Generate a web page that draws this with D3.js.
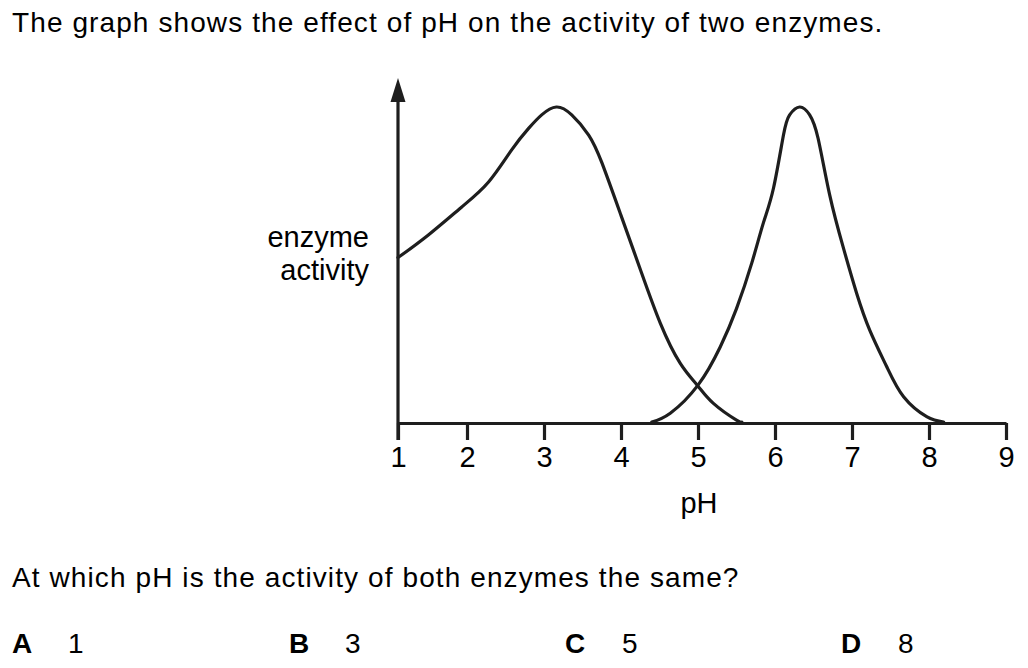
<!DOCTYPE html>
<html>
<head>
<meta charset="utf-8">
<script src="https://cdn.jsdelivr.net/npm/d3@7"></script>
<style>
  html, body { margin: 0; padding: 0; background: #fff; }
  svg { display: block; }
  text { font-family: "Liberation Sans", Arial, Helvetica, sans-serif; fill: #000; }
</style>
</head>
<body>
<svg id="chart" width="1028" height="668"></svg>
<script>
// ---- data ----
const phTicks = [1, 2, 3, 4, 5, 6, 7, 8, 9];
const enzymeA_pH       = [1.0, 1.44, 1.92, 2.28, 2.58, 2.80, 2.97, 3.16, 3.36, 3.58, 3.75, 4.00, 4.25, 4.51, 4.77, 4.99, 5.20, 5.50, 5.57];
const enzymeA_activity = [5.22, 5.94, 6.82, 7.62, 8.64, 9.32, 9.75, 10.0, 9.75, 9.11, 8.24, 6.56, 4.85, 3.14, 1.86, 1.17, 0.59, 0.06, 0];
const enzymeB_pH       = [4.40, 4.64, 5.00, 5.29, 5.50, 5.70, 5.85, 5.98, 6.11, 6.19, 6.32, 6.45, 6.56, 6.71, 6.89, 7.06, 7.23, 7.45, 7.67, 7.97, 8.19];
const enzymeB_activity = [0, 0.28, 1.17, 2.39, 3.60, 5.06, 6.33, 7.42, 9.11, 9.75, 10.0, 9.75, 9.00, 7.21, 5.51, 4.09, 2.92, 1.76, 0.80, 0.17, 0];
const titleText = "The graph shows the effect of pH on the activity of two enzymes.";
const questionText = "At which pH is the activity of both enzymes the same?";
const yLabelLines = ["enzyme", "activity"];
const xLabel = "pH";
const optionLetters = ["A", "B", "C", "D"];
const optionValues = ["1", "3", "5", "8"];

// ---- layout ----
const ink = "#1e1e1e";
const svg = d3.select("#chart");
const x = d3.scaleLinear().domain([1, 2, 9]).range([398, 467, 1006]);
const y = d3.scaleLinear().domain([0, 10]).range([422, 107]);
const axisY = 423;

// title
svg.append("text").attr("x", 12).attr("y", 32)
  .style("font-size", "28px").style("letter-spacing", "1.1px")
  .text(titleText);

// curves (drawn first so the axis line sits on top of their ends)
const line = d3.line().x(d => x(d[0])).y(d => y(d[1])).curve(d3.curveNatural);
const seriesA = enzymeA_pH.map((p, i) => [p, enzymeA_activity[i]]);
const seriesB = enzymeB_pH.map((p, i) => [p, enzymeB_activity[i]]);
[seriesA, seriesB].forEach(s => {
  svg.append("path").datum(s).attr("d", line)
    .attr("fill", "none").attr("stroke", ink).attr("stroke-width", 3.2)
    .attr("stroke-linejoin", "round").attr("stroke-linecap", "round");
});

// x axis
const xAxis = d3.axisBottom(x).tickValues(phTicks).tickSize(17).tickSizeOuter(0).tickFormat(d3.format("d"));
const gx = svg.append("g").attr("transform", `translate(0,${axisY})`).call(xAxis);
gx.select(".domain").attr("stroke", ink).attr("stroke-width", 3.2);
gx.selectAll(".tick line").attr("stroke", ink).attr("stroke-width", 3.2);
gx.selectAll(".tick text").attr("dy", null).attr("y", 44)
  .style("font-size", "29px").style("font-family", '"Liberation Sans", Arial, sans-serif').attr("fill", "#000");

// y axis with arrow
svg.append("line").attr("x1", x(1)).attr("x2", x(1))
  .attr("y1", axisY + 17).attr("y2", 100)
  .attr("stroke", ink).attr("stroke-width", 3.2);
svg.append("path")
  .attr("d", d3.line()([[x(1), 78], [x(1) - 7.5, 102], [x(1) + 7.5, 102]]) + "Z")
  .attr("fill", ink);

// axis labels
svg.selectAll(".ylab").data(yLabelLines).enter().append("text")
  .attr("class", "ylab").attr("x", 369).attr("y", (d, i) => 247 + i * 33)
  .attr("text-anchor", "end").style("font-size", "29px").text(d => d);
svg.append("text").attr("x", 699).attr("y", 513).attr("text-anchor", "middle")
  .style("font-size", "29px").text(xLabel);

// question
svg.append("text").attr("x", 12).attr("y", 587)
  .style("font-size", "28px").style("letter-spacing", "1.1px")
  .text(questionText);

// options
const letterX = [12, 289, 565, 841];
const valueX = [68, 345, 622, 898];
optionLetters.forEach((l, i) => {
  svg.append("text").attr("x", letterX[i]).attr("y", 653)
    .style("font-size", "28px").style("font-weight", "bold").text(l);
  svg.append("text").attr("x", valueX[i]).attr("y", 653)
    .style("font-size", "28px").text(optionValues[i]);
});
</script>
</body>
</html>
